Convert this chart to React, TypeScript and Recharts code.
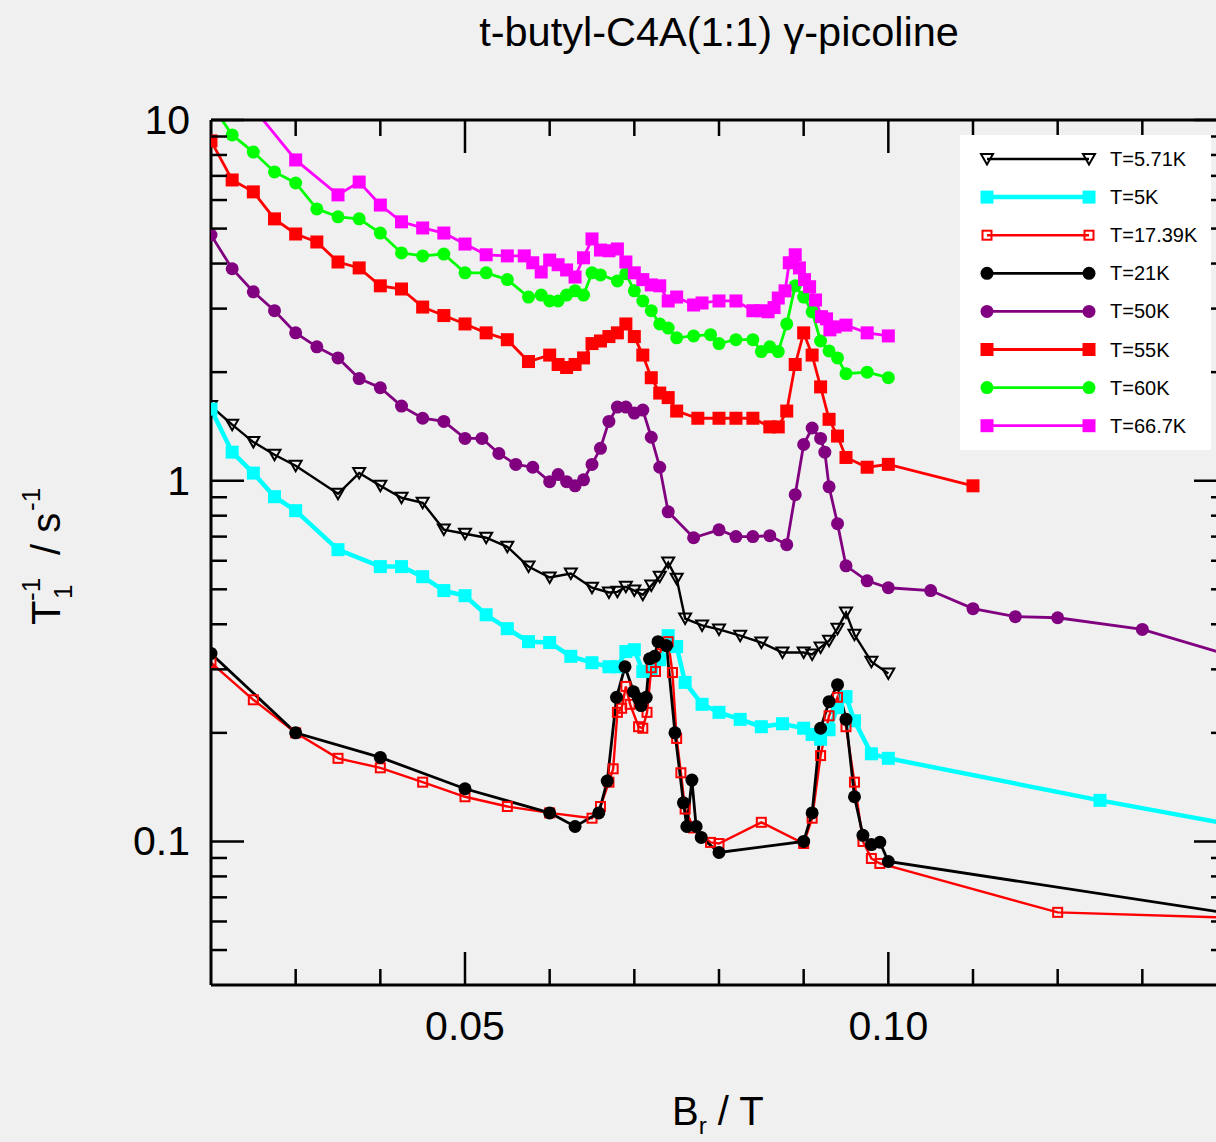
import React from 'react';
import { LineChart, Line, XAxis, YAxis, Legend } from 'recharts';

const FONT = '"Liberation Sans", Arial, Helvetica, sans-serif';

// B_r / T values and T1^-1 / s^-1 values, one pair of arrays per temperature

const field571 = [0.02, 0.0225, 0.025, 0.0275, 0.03, 0.035, 0.0375, 0.04, 0.0425, 0.045, 0.0475, 0.05, 0.0525, 0.055, 0.0575, 0.06, 0.0625, 0.065, 0.067, 0.068, 0.069, 0.07, 0.071, 0.072, 0.073, 0.074, 0.075, 0.076, 0.078, 0.08, 0.0825, 0.085, 0.0875, 0.09, 0.091, 0.092, 0.093, 0.094, 0.095, 0.096, 0.098, 0.1];
const rate571 = [1.61, 1.43, 1.28, 1.18, 1.1, 0.92, 1.05, 0.968, 0.897, 0.869, 0.732, 0.713, 0.695, 0.656, 0.578, 0.539, 0.553, 0.505, 0.49, 0.492, 0.508, 0.496, 0.483, 0.512, 0.542, 0.593, 0.535, 0.415, 0.397, 0.387, 0.372, 0.356, 0.334, 0.334, 0.33, 0.345, 0.36, 0.389, 0.431, 0.374, 0.315, 0.292];

const field5 = [0.02, 0.0225, 0.025, 0.0275, 0.03, 0.035, 0.04, 0.0425, 0.045, 0.0475, 0.05, 0.0525, 0.055, 0.0575, 0.06, 0.0625, 0.065, 0.067, 0.068, 0.069, 0.07, 0.071, 0.072, 0.073, 0.074, 0.075, 0.076, 0.078, 0.08, 0.0825, 0.085, 0.0875, 0.09, 0.091, 0.092, 0.093, 0.094, 0.095, 0.096, 0.098, 0.1, 0.125, 0.14];
const rate5 = [1.58, 1.2, 1.05, 0.903, 0.826, 0.644, 0.578, 0.578, 0.542, 0.496, 0.48, 0.425, 0.389, 0.358, 0.356, 0.326, 0.313, 0.305, 0.305, 0.336, 0.34, 0.296, 0.3, 0.319, 0.372, 0.347, 0.276, 0.24, 0.228, 0.218, 0.208, 0.212, 0.206, 0.198, 0.192, 0.204, 0.235, 0.252, 0.216, 0.175, 0.17, 0.13, 0.112];

const field1739 = [0.02, 0.025, 0.03, 0.035, 0.04, 0.045, 0.05, 0.055, 0.06, 0.065, 0.066, 0.067, 0.0675, 0.068, 0.0685, 0.069, 0.0695, 0.0705, 0.071, 0.0715, 0.072, 0.0725, 0.0733, 0.074, 0.0745, 0.075, 0.0755, 0.076, 0.077, 0.079, 0.08, 0.085, 0.09, 0.091, 0.092, 0.093, 0.094, 0.095, 0.096, 0.097, 0.098, 0.099, 0.12, 0.14];
const rate1739 = [0.313, 0.247, 0.2, 0.17, 0.16, 0.146, 0.133, 0.125, 0.12, 0.116, 0.125, 0.146, 0.159, 0.228, 0.234, 0.269, 0.24, 0.208, 0.206, 0.228, 0.303, 0.296, 0.351, 0.358, 0.294, 0.193, 0.155, 0.123, 0.109, 0.0994, 0.0987, 0.113, 0.0987, 0.116, 0.173, 0.223, 0.251, 0.208, 0.146, 0.1, 0.0897, 0.0869, 0.0636, 0.0615];

const field21 = [0.02, 0.03, 0.04, 0.05, 0.06, 0.063, 0.0658, 0.0668, 0.0679, 0.0689, 0.0699, 0.0705, 0.0708, 0.0714, 0.0718, 0.0724, 0.0728, 0.0738, 0.0748, 0.0758, 0.0762, 0.0768, 0.0773, 0.0779, 0.08, 0.09, 0.091, 0.092, 0.093, 0.094, 0.095, 0.096, 0.097, 0.098, 0.099, 0.1, 0.14];
const rate21 = [0.332, 0.2, 0.171, 0.14, 0.12, 0.11, 0.12, 0.147, 0.251, 0.305, 0.26, 0.249, 0.238, 0.251, 0.321, 0.326, 0.358, 0.349, 0.2, 0.128, 0.11, 0.148, 0.11, 0.1026, 0.0932, 0.1, 0.12, 0.206, 0.244, 0.272, 0.218, 0.133, 0.104, 0.098, 0.0995, 0.088, 0.0633];

const field50 = [0.02, 0.0225, 0.025, 0.0275, 0.03, 0.0325, 0.035, 0.0375, 0.04, 0.0425, 0.045, 0.0475, 0.05, 0.052, 0.054, 0.056, 0.058, 0.06, 0.061, 0.062, 0.063, 0.064, 0.065, 0.066, 0.067, 0.068, 0.069, 0.07, 0.071, 0.072, 0.073, 0.074, 0.077, 0.08, 0.082, 0.084, 0.086, 0.088, 0.089, 0.09, 0.091, 0.092, 0.0925, 0.093, 0.094, 0.095, 0.0975, 0.1, 0.105, 0.11, 0.115, 0.12, 0.13, 0.14];
const rate50 = [4.8, 3.87, 3.34, 2.96, 2.57, 2.35, 2.19, 1.92, 1.81, 1.61, 1.49, 1.46, 1.31, 1.31, 1.19, 1.11, 1.09, 0.994, 1.04, 0.994, 0.968, 1.006, 1.11, 1.23, 1.46, 1.6, 1.6, 1.54, 1.57, 1.32, 1.09, 0.82, 0.695, 0.731, 0.7, 0.7, 0.704, 0.665, 0.915, 1.26, 1.4, 1.31, 1.2, 0.962, 0.76, 0.581, 0.528, 0.505, 0.496, 0.442, 0.42, 0.417, 0.387, 0.33];

const field55 = [0.02, 0.0225, 0.025, 0.0275, 0.03, 0.0325, 0.035, 0.0375, 0.04, 0.0425, 0.045, 0.0475, 0.05, 0.0525, 0.055, 0.0575, 0.06, 0.061, 0.062, 0.063, 0.064, 0.065, 0.066, 0.067, 0.068, 0.069, 0.07, 0.071, 0.072, 0.073, 0.074, 0.075, 0.0775, 0.08, 0.082, 0.084, 0.086, 0.087, 0.088, 0.089, 0.09, 0.091, 0.092, 0.093, 0.094, 0.095, 0.0975, 0.1, 0.11];
const rate55 = [8.75, 6.82, 6.32, 5.32, 4.83, 4.59, 4.04, 3.89, 3.47, 3.4, 3.03, 2.87, 2.72, 2.57, 2.46, 2.14, 2.23, 2.1, 2.06, 2.1, 2.19, 2.4, 2.44, 2.51, 2.57, 2.72, 2.51, 2.23, 1.93, 1.75, 1.7, 1.56, 1.49, 1.49, 1.49, 1.49, 1.41, 1.41, 1.56, 2.1, 2.57, 2.23, 1.82, 1.48, 1.33, 1.16, 1.09, 1.11, 0.968];

const field60 = [0.02, 0.0225, 0.025, 0.0275, 0.03, 0.0325, 0.035, 0.0375, 0.04, 0.0425, 0.045, 0.0475, 0.05, 0.0525, 0.055, 0.0575, 0.059, 0.06, 0.061, 0.062, 0.063, 0.064, 0.065, 0.066, 0.068, 0.069, 0.07, 0.071, 0.072, 0.073, 0.074, 0.075, 0.077, 0.079, 0.08, 0.082, 0.084, 0.085, 0.086, 0.087, 0.088, 0.089, 0.09, 0.091, 0.092, 0.093, 0.094, 0.095, 0.0975, 0.1];
const rate60 = [11.1, 9.09, 8.15, 7.18, 6.69, 5.67, 5.39, 5.32, 4.86, 4.28, 4.2, 4.25, 3.77, 3.77, 3.61, 3.23, 3.27, 3.15, 3.15, 3.27, 3.36, 3.27, 3.77, 3.72, 3.58, 3.75, 3.36, 3.15, 2.96, 2.72, 2.65, 2.49, 2.52, 2.54, 2.4, 2.46, 2.46, 2.28, 2.35, 2.28, 2.72, 3.47, 3.23, 2.94, 2.44, 2.29, 2.19, 1.98, 2.0, 1.93];

const field667 = [0.025, 0.03, 0.035, 0.0375, 0.04, 0.0425, 0.045, 0.0475, 0.05, 0.0525, 0.055, 0.057, 0.058, 0.059, 0.06, 0.061, 0.062, 0.063, 0.064, 0.065, 0.066, 0.067, 0.068, 0.069, 0.07, 0.071, 0.072, 0.073, 0.074, 0.075, 0.077, 0.078, 0.08, 0.082, 0.084, 0.085, 0.0858, 0.0865, 0.087, 0.0878, 0.0883, 0.089, 0.0895, 0.0901, 0.0907, 0.0914, 0.0921, 0.0927, 0.0931, 0.0937, 0.095, 0.0975, 0.1];
const rate667 = [10.8, 7.75, 6.2, 6.73, 5.81, 5.22, 5.02, 4.86, 4.53, 4.23, 4.2, 4.2, 4.02, 3.79, 4.09, 3.97, 3.84, 3.67, 4.15, 4.68, 4.36, 4.34, 4.39, 4.04, 3.77, 3.61, 3.49, 3.47, 3.15, 3.23, 3.07, 3.11, 3.15, 3.15, 2.96, 2.96, 2.94, 3.02, 3.21, 3.36, 4.02, 4.23, 3.89, 3.61, 3.45, 3.17, 2.85, 2.81, 2.62, 2.67, 2.7, 2.57, 2.52];

// axis ticks
const xTicks = [0.03, 0.04, 0.05, 0.06, 0.07, 0.08, 0.09, 0.1, 0.11, 0.12, 0.13];
const xMajor = [0.05, 0.1];
const xMajorLabels = ['0.05', '0.10'];
const yTicks = [0.05, 0.06, 0.07, 0.08, 0.09, 0.1, 0.2, 0.3, 0.4, 0.5, 0.6, 0.7, 0.8, 0.9, 1, 2, 3, 4, 5, 6, 7, 8, 9, 10];
const yMajor = [0.1, 1, 10];
const yMajorLabels = ['0.1', '1', '10'];

type MarkerKind = 'triDown' | 'square' | 'openSquare' | 'circle';

const toPoints = (xs: number[], ys: number[]) => xs.map((x, i) => ({ x, y: ys[i] }));

const series: { name: string; data: { x: number; y: number }[]; color: string; marker: MarkerKind; width: number }[] = [
    { name: 'T=5.71K', data: toPoints(field571, rate571), color: '#000000', marker: 'triDown', width: 2.4 },
    { name: 'T=5K', data: toPoints(field5, rate5), color: '#00ffff', marker: 'square', width: 4.5 },
    { name: 'T=17.39K', data: toPoints(field1739, rate1739), color: '#ff0000', marker: 'openSquare', width: 2.4 },
    { name: 'T=21K', data: toPoints(field21, rate21), color: '#000000', marker: 'circle', width: 2.8 },
    { name: 'T=50K', data: toPoints(field50, rate50), color: '#800080', marker: 'circle', width: 2.8 },
    { name: 'T=55K', data: toPoints(field55, rate55), color: '#ff0000', marker: 'square', width: 2.8 },
    { name: 'T=60K', data: toPoints(field60, rate60), color: '#00ff00', marker: 'circle', width: 2.8 },
    { name: 'T=66.7K', data: toPoints(field667, rate667), color: '#ff00ff', marker: 'square', width: 2.8 },
];

const markerShape = (kind: MarkerKind, color: string, cx: number, cy: number, key?: React.Key) => {
    switch (kind) {
        case 'triDown':
            return (
                <path
                    key={key}
                    d={`M${cx - 6},${cy - 5}L${cx + 6},${cy - 5}L${cx},${cy + 5.5}Z`}
                    fill="none"
                    stroke={color}
                    strokeWidth={2}
                />
            );
        case 'square':
            return <rect key={key} x={cx - 6.5} y={cy - 6.5} width={13} height={13} fill={color} />;
        case 'openSquare':
            return <rect key={key} x={cx - 4.5} y={cy - 4.5} width={9} height={9} fill="none" stroke={color} strokeWidth={2} />;
        default:
            return <circle key={key} cx={cx} cy={cy} r={6.5} fill={color} />;
    }
};

const dotFor = (kind: MarkerKind, color: string) => (props: any) => {
    const { cx, cy, index } = props;
    if (cx == null || cy == null) return <g key={`e-${index}`} />;
    return markerShape(kind, color, cx, cy, `d-${index}`);
};

const near = (a: number, b: number) => Math.abs(a - b) < 1e-9 * Math.max(1, Math.abs(b));
const xLabel = (v: number) => {
    const i = xMajor.findIndex((m) => near(v, m));
    return i >= 0 ? xMajorLabels[i] : null;
};
const yLabel = (v: number) => {
    const i = yMajor.findIndex((m) => near(v, m));
    return i >= 0 ? yMajorLabels[i] : null;
};

const MAJOR = 33;
const MINOR = 16;

const BottomTick = (props: any) => {
    const { x, y, payload } = props;
    const label = xLabel(payload.value);
    return (
        <g>
            <line x1={x} y1={y} x2={x} y2={y - (label ? MAJOR : MINOR)} stroke="#000" strokeWidth={2.5} />
            {label && (
                <text x={x} y={y + 55} textAnchor="middle" fontSize={41} fontFamily={FONT} fill="#000">
                    {label}
                </text>
            )}
        </g>
    );
};

const TopTick = (props: any) => {
    const { x, y, payload } = props;
    const len = xLabel(payload.value) ? MAJOR : MINOR;
    return <line x1={x} y1={y} x2={x} y2={y + len} stroke="#000" strokeWidth={2.5} />;
};

const LeftTick = (props: any) => {
    const { x, y, payload } = props;
    const label = yLabel(payload.value);
    return (
        <g>
            <line x1={x} y1={y} x2={x + (label ? MAJOR : MINOR)} y2={y} stroke="#000" strokeWidth={2.5} />
            {label && (
                <text x={x - 21} y={y + 14} textAnchor="end" fontSize={41} fontFamily={FONT} fill="#000">
                    {label}
                </text>
            )}
        </g>
    );
};

const RightTick = (props: any) => {
    const { x, y, payload } = props;
    const len = yLabel(payload.value) ? MAJOR : MINOR;
    return <line x1={x} y1={y} x2={x - len} y2={y} stroke="#000" strokeWidth={2.5} />;
};

const LegendBox = () => (
    <svg width={251} height={315} style={{ display: 'block' }}>
        <rect x={0} y={0} width={251} height={315} fill="#ffffff" />
        {series.map((s, i) => {
            const y = 24 + i * 38.1;
            return (
                <g key={s.name}>
                    <line x1={27} y1={y} x2={129} y2={y} stroke={s.color} strokeWidth={s.width} />
                    {markerShape(s.marker, s.color, 27, y, 'a')}
                    {markerShape(s.marker, s.color, 129, y, 'b')}
                    <text x={150} y={y + 7} fontSize={20} fontFamily={FONT} fill="#000">
                        {s.name}
                    </text>
                </g>
            );
        })}
    </svg>
);

const axisLine = { stroke: '#000', strokeWidth: 3 };

export default function App() {
    return (
        <div
            style={{
                position: 'fixed',
                left: 0,
                top: 0,
                width: 1216,
                height: 1142,
                overflow: 'hidden',
                background: '#f0f0f0',
                fontFamily: FONT,
            }}
        >
            <LineChart width={1260} height={1142} margin={{ top: 100, right: 0, bottom: 97, left: 0 }}>
                <XAxis
                    dataKey="x"
                    type="number"
                    domain={[0.02, 0.14]}
                    allowDataOverflow
                    ticks={xTicks}
                    interval={0}
                    height={60}
                    tickSize={0}
                    tickMargin={0}
                    tickLine={false}
                    axisLine={axisLine}
                    tick={<BottomTick />}
                />
                <XAxis
                    xAxisId="top"
                    orientation="top"
                    dataKey="x"
                    type="number"
                    domain={[0.02, 0.14]}
                    allowDataOverflow
                    ticks={xTicks}
                    interval={0}
                    height={20}
                    tickSize={0}
                    tickMargin={0}
                    tickLine={false}
                    axisLine={axisLine}
                    tick={<TopTick />}
                />
                <YAxis
                    type="number"
                    scale="log"
                    domain={[0.04, 10]}
                    allowDataOverflow
                    ticks={yTicks}
                    interval={0}
                    width={211}
                    tickSize={0}
                    tickMargin={0}
                    tickLine={false}
                    axisLine={axisLine}
                    tick={<LeftTick />}
                />
                <YAxis
                    yAxisId="right"
                    orientation="right"
                    type="number"
                    scale="log"
                    domain={[0.04, 10]}
                    allowDataOverflow
                    ticks={yTicks}
                    interval={0}
                    width={33}
                    tickSize={0}
                    tickMargin={0}
                    tickLine={false}
                    axisLine={axisLine}
                    tick={<RightTick />}
                />
                <Legend
                    layout="vertical"
                    align="center"
                    verticalAlign="middle"
                    wrapperStyle={{ left: 960, top: 135, width: 251, height: 315 }}
                    content={() => <LegendBox />}
                />
                {series.map((s) => (
                    <Line
                        key={s.name}
                        name={s.name}
                        data={s.data}
                        dataKey="y"
                        type="linear"
                        stroke={s.color}
                        strokeWidth={s.width}
                        dot={dotFor(s.marker, s.color)}
                        activeDot={false}
                        isAnimationActive={false}
                    />
                ))}
            </LineChart>
            <svg width={1216} height={1142} style={{ position: 'absolute', left: 0, top: 0, pointerEvents: 'none' }}>
                <text x={719} y={46} textAnchor="middle" fontSize={41.5} fontFamily={FONT} fill="#000">
                    t-butyl-C4A(1:1) γ-picoline
                </text>
                <text x={672} y={1125} fontSize={40} fontFamily={FONT} fill="#000">
                    B
                    <tspan fontSize={24} dy={9}>r</tspan>
                    <tspan fontSize={40} dy={-9}>{' / T'}</tspan>
                </text>
                <g transform="translate(60,625) rotate(-90)" fontFamily={FONT} fill="#000">
                    <text x={0} y={0} fontSize={40}>T</text>
                    <text x={26} y={12} fontSize={26}>1</text>
                    <text x={24} y={-20} fontSize={26}>-1</text>
                    <text x={70} y={0} fontSize={40}>{'/ s'}</text>
                    <text x={114} y={-20} fontSize={26}>-1</text>
                </g>
            </svg>
        </div>
    );
}
